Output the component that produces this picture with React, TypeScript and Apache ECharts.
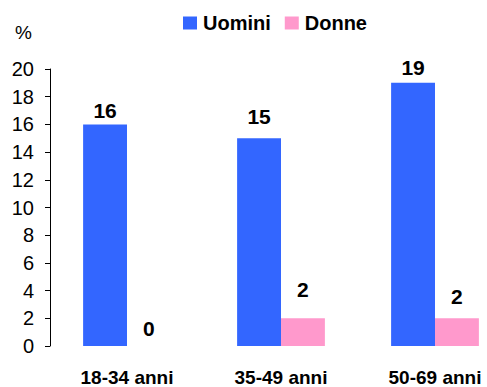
import React, { useEffect, useRef } from "react";
import * as echarts from "echarts";

const categories = ["18-34 anni", "35-49 anni", "50-69 anni"];
const uomini = [16, 15, 19];
const donne = [0, 2, 2];
const seriesNames = ["Uomini", "Donne"];
// label distances above each bar (style only)
const uominiLabelDist = [3, 11, 5];
const donneLabelDist = [7, 18, 11];

export default function App() {
  const ref = useRef<HTMLDivElement>(null);
  useEffect(() => {
    if (!ref.current) return;
    const chart = echarts.init(ref.current, undefined, { renderer: "svg" });
    const font = "'Liberation Sans', Arial, sans-serif";
    const labelStyle = {
      show: true,
      position: "top",
      fontFamily: font,
      fontSize: 21,
      fontWeight: "bold",
      color: "#000",
    };
    chart.setOption({
      animation: false,
      textStyle: { fontFamily: font },
      legend: {
        left: 178,
        top: 8,
        itemWidth: 14,
        itemHeight: 13,
        itemGap: 14,
        icon: "rect",
        textStyle: { fontFamily: font, fontSize: 20, fontWeight: "bold", color: "#000", padding: [0, 0, 0, 1] },
        data: seriesNames,
      },
      graphic: [
        {
          type: "text",
          left: 15,
          top: 23,
          style: { text: "%", fontFamily: font, fontSize: 19, fill: "#000" },
        },
      ],
      grid: { left: 50, right: 18, top: 69, bottom: 40, containLabel: false },
      xAxis: {
        type: "category",
        data: categories,
        axisLine: { show: false },
        axisTick: { show: false },
        axisLabel: { fontFamily: font, fontSize: 19, fontWeight: "bold", color: "#000", margin: 22 },
      },
      yAxis: {
        type: "value",
        min: 0,
        max: 20,
        interval: 2,
        splitLine: { show: false },
        axisLine: { show: true, lineStyle: { color: "#000", width: 1 } },
        axisTick: { show: true, length: 5, lineStyle: { color: "#000" } },
        axisLabel: { fontFamily: font, fontSize: 20, color: "#000", margin: 16 },
      },
      series: [
        {
          name: seriesNames[0],
          type: "bar",
          data: uomini.map((v, i) => ({ value: v, label: { distance: uominiLabelDist[i] } })),
          barGap: "0%",
          barCategoryGap: "43%",
          itemStyle: { color: "#3366FF" },
          label: labelStyle,
        },
        {
          name: seriesNames[1],
          type: "bar",
          data: donne.map((v, i) => ({ value: v, label: { distance: donneLabelDist[i] } })),
          barGap: "0%",
          barCategoryGap: "43%",
          itemStyle: { color: "#FF99CC" },
          label: labelStyle,
        },
      ],
    });
    return () => chart.dispose();
  }, []);
  return (
    <div style={{ position: "fixed", left: 0, top: 0, width: 487, height: 387, overflow: "hidden", background: "#fff" }}>
      <div ref={ref} style={{ width: 530, height: 387 }} />
    </div>
  );
}
